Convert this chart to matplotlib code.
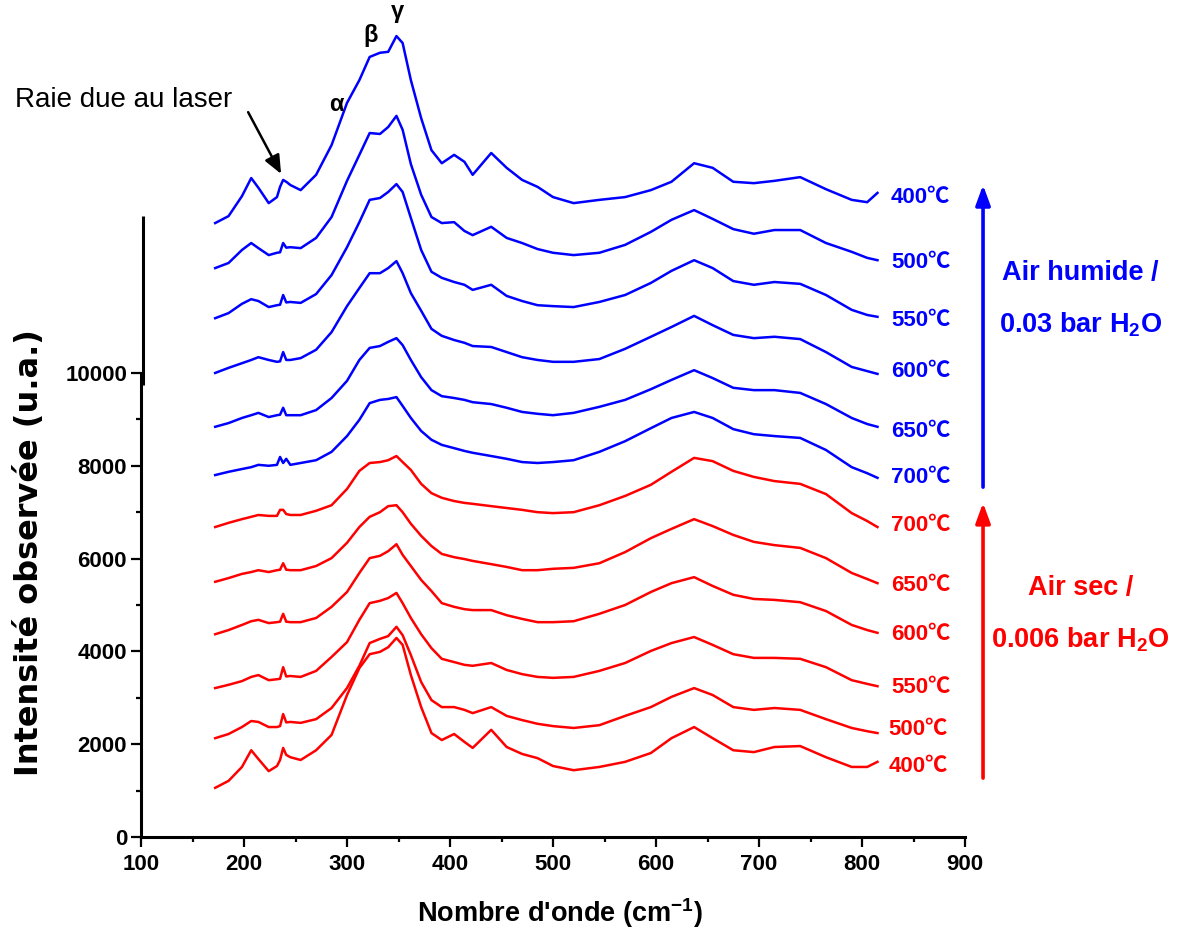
import matplotlib.pyplot as plt
from matplotlib.ticker import FixedLocator, MultipleLocator
from matplotlib.transforms import offset_copy

plt.rcParams['font.family'] = ['Liberation Sans', 'Noto Sans CJK SC', 'DejaVu Sans']
plt.rcParams['font.weight'] = 'bold'
plt.rcParams['mathtext.fontset'] = 'custom'
plt.rcParams['mathtext.rm'] = 'Liberation Sans:bold'
plt.rcParams['mathtext.bf'] = 'Liberation Sans:bold'
plt.rcParams['mathtext.default'] = 'rm'

BLUE = '#0000ff'
RED = '#ff0000'

# Raman shift grid (cm-1) shared by all spectra
wavenumber = [172, 185, 198, 207, 214, 224, 232, 235, 238, 241, 245, 255, 270, 285, 300, 312,
              322, 332, 340, 348, 354, 362, 372, 382, 392, 404, 414, 422, 440, 455, 470, 485,
              500, 520, 545, 570, 595, 615, 637, 655, 675, 695, 715, 740, 765, 790, 805, 815]

# humid air (0.03 bar H2O), stacked intensities
humid_400 = [13230, 13380, 13810, 14200, 13990, 13660, 13790, 14010, 14160, 14120, 14050, 13940,
             14270, 14910, 15820, 16310, 16810, 16900, 16920, 17260, 17110, 16310, 15490, 14800,
             14520, 14700, 14550, 14270, 14740, 14420, 14160, 14010, 13790, 13660, 13730, 13790,
             13940, 14120, 14520, 14420, 14120, 14090, 14140, 14220, 13960, 13730, 13680, 13880]
humid_500 = [12260, 12370, 12650, 12800, 12690, 12540, 12590, 12600, 12800, 12700, 12710, 12690,
             12910, 13360, 14140, 14700, 15170, 15150, 15300, 15540, 15240, 14500, 13840, 13360,
             13230, 13250, 13060, 12970, 13150, 12910, 12800, 12670, 12590, 12540, 12590, 12760,
             13040, 13300, 13510, 13320, 13100, 13000, 13080, 13080, 12800, 12610, 12480, 12430]
humid_550 = [11180, 11290, 11490, 11590, 11550, 11420, 11460, 11470, 11680, 11520, 11530, 11510,
             11700, 12110, 12710, 13250, 13730, 13770, 13900, 14070, 13900, 13340, 12650, 12180,
             12050, 11960, 11900, 11790, 11900, 11660, 11550, 11460, 11440, 11420, 11530, 11680,
             11940, 12200, 12430, 12260, 11980, 11900, 11960, 11920, 11680, 11360, 11250, 11210]
humid_600 = [10000, 10110, 10210, 10280, 10340, 10280, 10240, 10250, 10450, 10280, 10280, 10320,
             10500, 10880, 11440, 11830, 12150, 12150, 12260, 12410, 12150, 11720, 11340, 10950,
             10800, 10710, 10650, 10580, 10560, 10450, 10340, 10280, 10240, 10240, 10300, 10520,
             10780, 10990, 11230, 11030, 10820, 10750, 10780, 10730, 10450, 10130, 10040, 9980]
humid_650 = [8840, 8920, 9030, 9090, 9140, 9050, 9090, 9100, 9250, 9090, 9090, 9090,
             9200, 9460, 9830, 10280, 10540, 10580, 10670, 10750, 10600, 10280, 9910, 9630,
             9500, 9460, 9420, 9370, 9330, 9250, 9160, 9120, 9090, 9140, 9270, 9420,
             9650, 9850, 10060, 9890, 9680, 9630, 9630, 9570, 9330, 9030, 8900, 8840]
humid_700 = [7800, 7870, 7930, 7970, 8020, 8000, 8020, 8190, 8060, 8150, 8020, 8060,
             8120, 8300, 8640, 8990, 9350, 9420, 9440, 9480, 9290, 9030, 8750, 8560,
             8450, 8380, 8320, 8280, 8210, 8150, 8080, 8060, 8080, 8120, 8300, 8530,
             8810, 9030, 9160, 9030, 8790, 8680, 8640, 8600, 8340, 7970, 7840, 7740]

# dry air (0.006 bar H2O)
dry_700 = [6680, 6770, 6850, 6900, 6940, 6920, 6920, 7050, 7050, 6960, 6940, 6940,
           7030, 7150, 7500, 7890, 8060, 8080, 8120, 8210, 8080, 7910, 7610, 7410,
           7310, 7240, 7200, 7180, 7130, 7090, 7050, 7000, 6980, 7000, 7150, 7350,
           7590, 7870, 8170, 8100, 7890, 7760, 7670, 7610, 7390, 6980, 6810, 6680]
dry_650 = [5500, 5580, 5670, 5710, 5750, 5710, 5750, 5760, 5900, 5760, 5750, 5750,
           5840, 6010, 6340, 6680, 6900, 7000, 7130, 7150, 7000, 6750, 6490, 6270,
           6100, 6030, 5990, 5950, 5880, 5820, 5750, 5750, 5780, 5800, 5900, 6140,
           6440, 6640, 6850, 6700, 6510, 6360, 6290, 6230, 6010, 5690, 5560, 5470]
dry_600 = [4370, 4460, 4570, 4650, 4680, 4610, 4630, 4640, 4810, 4640, 4630, 4630,
           4720, 4960, 5280, 5690, 6010, 6060, 6160, 6310, 6080, 5840, 5540, 5300,
           5040, 4960, 4910, 4890, 4890, 4780, 4700, 4630, 4630, 4650, 4810, 5000,
           5280, 5470, 5600, 5410, 5220, 5130, 5110, 5060, 4870, 4570, 4460, 4400]
dry_550 = [3210, 3280, 3360, 3450, 3490, 3380, 3400, 3410, 3660, 3460, 3470, 3450,
           3580, 3880, 4200, 4680, 5040, 5090, 5150, 5260, 5040, 4720, 4370, 4070,
           3840, 3770, 3710, 3690, 3750, 3600, 3510, 3450, 3430, 3450, 3580, 3750,
           4010, 4180, 4310, 4140, 3940, 3860, 3860, 3840, 3660, 3380, 3300, 3250]
dry_500 = [2130, 2220, 2370, 2500, 2480, 2370, 2370, 2390, 2650, 2470, 2480, 2460,
           2540, 2780, 3210, 3690, 4180, 4270, 4330, 4530, 4350, 3920, 3340, 2950,
           2800, 2800, 2740, 2670, 2800, 2610, 2520, 2440, 2390, 2350, 2410, 2610,
           2800, 3020, 3210, 3060, 2800, 2740, 2780, 2740, 2540, 2350, 2280, 2240]
dry_400 = [1060, 1210, 1510, 1870, 1680, 1420, 1530, 1660, 1920, 1770, 1720, 1660,
           1870, 2200, 3060, 3640, 3940, 3990, 4090, 4290, 4140, 3490, 2800, 2240,
           2090, 2220, 2050, 1920, 2310, 1940, 1790, 1700, 1530, 1440, 1510, 1620,
           1810, 2130, 2370, 2130, 1870, 1830, 1940, 1960, 1720, 1510, 1510, 1620]

humid_spectra = [humid_400, humid_500, humid_550, humid_600, humid_650, humid_700]
dry_spectra = [dry_700, dry_650, dry_600, dry_550, dry_500, dry_400]
humid_labels = ['400℃', '500℃', '550℃', '600℃', '650℃', '700℃']
dry_labels = ['700℃', '650℃', '600℃', '550℃', '500℃', '400℃']

y_ticks = [0, 2000, 4000, 6000, 8000, 10000]
x_ticks = [100, 200, 300, 400, 500, 600, 700, 800, 900]

fig = plt.figure(figsize=(11.78, 9.32), dpi=100)
ax = fig.add_axes([0.1197, 0.1019, 0.6995, 0.8873])

for values in humid_spectra:
    ax.plot(wavenumber, values, color=BLUE, lw=1.8)
for values in dry_spectra:
    ax.plot(wavenumber, values, color=RED, lw=1.8)

ax.set_xlim(100, 900)
ax.set_ylim(0, 17820)

# axes: left + bottom only, y axis stops short of the stacked spectra
for side in ('top', 'right'):
    ax.spines[side].set_visible(False)
for side in ('left', 'bottom'):
    ax.spines[side].set_linewidth(2.2)
ax.spines['left'].set_bounds(0, 10000)
upper = offset_copy(ax.transData, fig=fig, x=1.5, y=0, units='dots')
ax.plot([100, 100], [9750, 13380], color='black', lw=2.2, transform=upper,
        clip_on=False, solid_capstyle='butt')

ax.xaxis.set_major_locator(FixedLocator(x_ticks))
ax.xaxis.set_minor_locator(MultipleLocator(50))
ax.yaxis.set_major_locator(FixedLocator(y_ticks))
ax.yaxis.set_minor_locator(FixedLocator([1000, 3000, 5000, 7000, 9000]))
ax.tick_params(which='major', length=7, width=1.6, labelsize=16)
ax.tick_params(which='minor', length=3.5, width=1.6)
ax.tick_params(axis='x', pad=5)
ax.tick_params(axis='y', pad=3)

fig.text(0.475, 0.002, "Nombre d'onde (cm$^{-1}$)", ha='center', va='bottom', fontsize=19.5)
fig.text(0.025, 0.407, 'Intensité observée (u.a.)', ha='center', va='center',
         rotation=90, fontsize=23, family='DejaVu Sans')

# temperature tags at the right end of each spectrum
humid_label_y = [13790, 12390, 11140, 10040, 8730, 7740]
dry_label_y = [6720, 5430, 4375, 3230, 2310, 1530]
for text, y in zip(humid_labels, humid_label_y):
    ax.text(828, y, text, color=BLUE, fontsize=16, va='center', ha='left')
for text, y, x in zip(dry_labels, dry_label_y, [828, 828, 828, 828, 826, 826]):
    ax.text(x, y, text, color=RED, fontsize=16, va='center', ha='left')

# direction arrows for each atmosphere
arrow = '-|>,head_length=0.6,head_width=0.22'
ax.annotate('', xy=(917.5, 14050), xytext=(917.5, 7540), annotation_clip=False,
            arrowprops=dict(arrowstyle=arrow, color=BLUE, lw=2.6, mutation_scale=20,
                            shrinkA=0, shrinkB=0))
ax.annotate('', xy=(917.5, 7200), xytext=(917.5, 1270), annotation_clip=False,
            arrowprops=dict(arrowstyle=arrow, color=RED, lw=2.6, mutation_scale=20,
                            shrinkA=0, shrinkB=0))
ax.text(1012, 12150, 'Air humide /', color=BLUE, fontsize=19.5, ha='center', va='center')
ax.text(1012, 11030, '0.03 bar H$_2$O', color=BLUE, fontsize=19.5, ha='center', va='center')
ax.text(1012, 5370, 'Air sec /', color=RED, fontsize=19.5, ha='center', va='center')
ax.text(1012, 4250, '0.006 bar H$_2$O', color=RED, fontsize=19.5, ha='center', va='center')

# band assignments and the laser line
ax.text(290, 15780, 'α', fontsize=17, ha='center', va='center')
ax.text(323, 17280, 'β', fontsize=17, ha='center', va='center')
ax.text(348.5, 17780, 'γ', fontsize=17, ha='center', va='center')
ax.annotate('Raie due au laser', xy=(236, 14290), xytext=(-22, 15880),
            fontsize=20, fontweight='normal', va='center', ha='left', annotation_clip=False)
ax.annotate('', xy=(236, 14290), xytext=(204, 15620), annotation_clip=False,
            arrowprops=dict(arrowstyle='-|>,head_length=0.7,head_width=0.3', color='black',
                            lw=1.8, mutation_scale=16, shrinkA=0, shrinkB=0))

fig.savefig('out.png', dpi=100)
